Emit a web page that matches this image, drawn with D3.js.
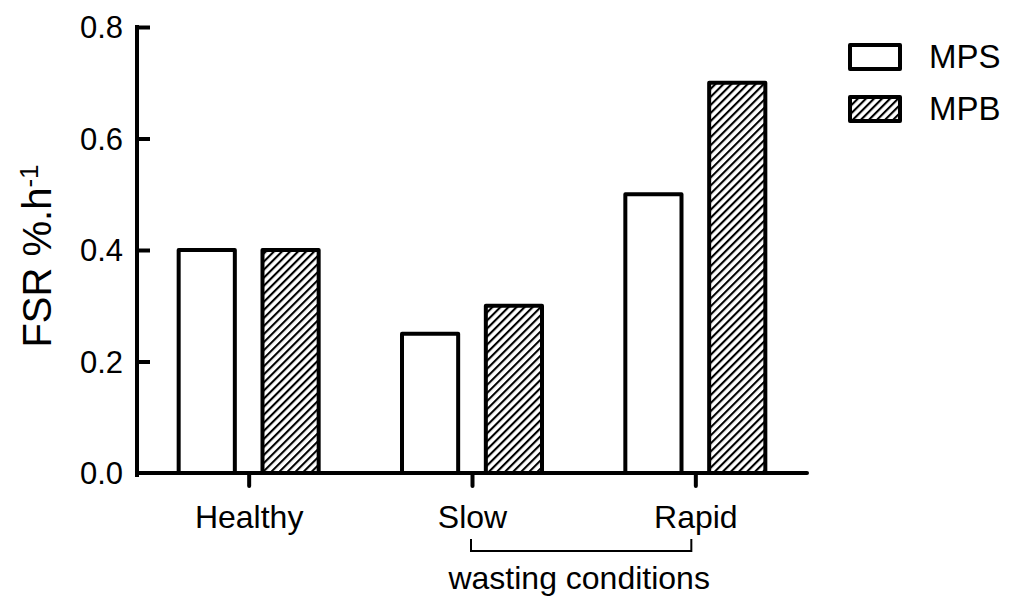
<!DOCTYPE html>
<html>
<head>
<meta charset="utf-8">
<script src="https://cdn.jsdelivr.net/npm/d3@7"></script>
<style>
  body { margin: 0; background: #fff; }
  text { font-family: Arial, 'Liberation Sans', sans-serif; fill: #000; }
</style>
</head>
<body>
<div class="chart"></div>
<script>
var categories = ['Healthy', 'Slow', 'Rapid']
var seriesNames = ['MPS', 'MPB']
var mpsValues = [0.4, 0.25, 0.5]
var mpbValues = [0.4, 0.3, 0.7]
var yTicks = [0.0, 0.2, 0.4, 0.6, 0.8]

var width = 1012
var height = 603
var plotLeft = 137, plotRight = 807, plotTop = 27, plotBottom = 473

var svg = d3.select('.chart')
  .append('svg')
  .attr('width', width)
  .attr('height', height)

// hatch pattern for MPB
svg.append('defs')
  .append('pattern')
  .attr('id', 'hatch')
  .attr('patternUnits', 'userSpaceOnUse')
  .attr('width', 5.7)
  .attr('height', 5.7)
  .attr('patternTransform', 'rotate(45)')
  .call(function(p) {
    p.append('rect').attr('width', 5.7).attr('height', 5.7).attr('fill', '#fff')
    p.append('line')
      .attr('x1', 1).attr('y1', 0).attr('x2', 1).attr('y2', 5.7)
      .attr('stroke', '#000').attr('stroke-width', 2.2)
  })

var x = d3.scalePoint()
  .domain(categories)
  .range([plotLeft, plotRight])
  .padding(0.5)
var xSub = d3.scaleBand()
  .domain(seriesNames)
  .range([-70, 70])
  .paddingInner(0.33)
var y = d3.scaleLinear()
  .domain([0, 0.8])
  .range([plotBottom, plotTop])

var data = []
categories.forEach(function(c, i) {
  data.push({cat: c, series: 'MPS', value: mpsValues[i]})
  data.push({cat: c, series: 'MPB', value: mpbValues[i]})
})

// bars
svg.append('g')
  .selectAll('rect')
  .data(data)
  .enter()
  .append('rect')
  .attr('x', function(d) { return x(d.cat) + xSub(d.series) })
  .attr('y', function(d) { return y(d.value) })
  .attr('width', xSub.bandwidth())
  .attr('height', function(d) { return plotBottom - y(d.value) })
  .attr('fill', function(d) { return d.series === 'MPB' ? 'url(#hatch)' : '#fff' })
  .attr('stroke', '#000')
  .attr('stroke-width', 4)
  .attr('stroke-linejoin', 'round')

// y axis, ticks pointing inward
var yAxis = svg.append('g')
  .attr('transform', 'translate(' + plotLeft + ',0)')
  .call(d3.axisRight(y).tickValues(yTicks.slice(1)).tickSize(13).tickFormat(''))
yAxis.select('.domain').remove()
yAxis.selectAll('line').attr('stroke-width', 4)
svg.append('line')
  .attr('x1', plotLeft).attr('x2', plotLeft)
  .attr('y1', y(0.8)).attr('y2', plotBottom + 2)
  .attr('stroke', '#000').attr('stroke-width', 4).attr('stroke-linecap', 'square')
svg.append('g')
  .selectAll('text')
  .data(yTicks)
  .enter()
  .append('text')
  .attr('x', plotLeft - 14)
  .attr('y', function(d) { return y(d) })
  .attr('dy', '0.36em')
  .attr('text-anchor', 'end')
  .style('font-size', '31px')
  .text(function(d) { return d3.format('.1f')(d) })

// x axis
svg.append('line')
  .attr('x1', plotLeft).attr('x2', plotRight)
  .attr('y1', plotBottom).attr('y2', plotBottom)
  .attr('stroke', '#000').attr('stroke-width', 4).attr('stroke-linecap', 'round')
var xAxis = svg.append('g')
  .attr('transform', 'translate(0,' + plotBottom + ')')
  .call(d3.axisBottom(x).tickSize(13).tickPadding(19))
xAxis.select('.domain').remove()
xAxis.selectAll('line').attr('stroke-width', 4).attr('stroke-linecap', 'round')
xAxis.selectAll('text')
  .style('font-size', '32px')
  .style('font-family', 'Arial, "Liberation Sans", sans-serif')

// bracket under Slow / Rapid
var bx1 = x('Slow') - 1, bx2 = x('Rapid') - 4
svg.append('path')
  .attr('d', 'M' + bx1 + ',539V551H' + bx2 + 'V539')
  .attr('fill', 'none')
  .attr('stroke', '#000')
  .attr('stroke-width', 2)
svg.append('text')
  .attr('x', (bx1 + bx2) / 2 - 2)
  .attr('y', 589)
  .attr('text-anchor', 'middle')
  .style('font-size', '32px')
  .text('wasting conditions')

// y label
var yLabel = svg.append('text')
  .attr('transform', 'translate(51,' + ((plotTop + plotBottom) / 2 + 6) + ') rotate(-90)')
  .attr('text-anchor', 'middle')
  .style('font-size', '40px')
yLabel.append('tspan').text('FSR %.h')
yLabel.append('tspan').attr('dy', '-0.5em').style('font-size', '26px').text('-1')

// legend
var legend = svg.append('g')
  .selectAll('g')
  .data(seriesNames)
  .enter()
  .append('g')
  .attr('transform', function(d, i) { return 'translate(850,' + (45 + i * 52) + ')' })
legend.append('rect')
  .attr('width', 50)
  .attr('height', 24)
  .attr('fill', function(d) { return d === 'MPB' ? 'url(#hatch)' : '#fff' })
  .attr('stroke', '#000')
  .attr('stroke-width', 4)
  .attr('stroke-linejoin', 'round')
legend.append('text')
  .attr('x', 79)
  .attr('y', 23)
  .style('font-size', '33px')
  .text(function(d) { return d })
</script>
</body>
</html>
